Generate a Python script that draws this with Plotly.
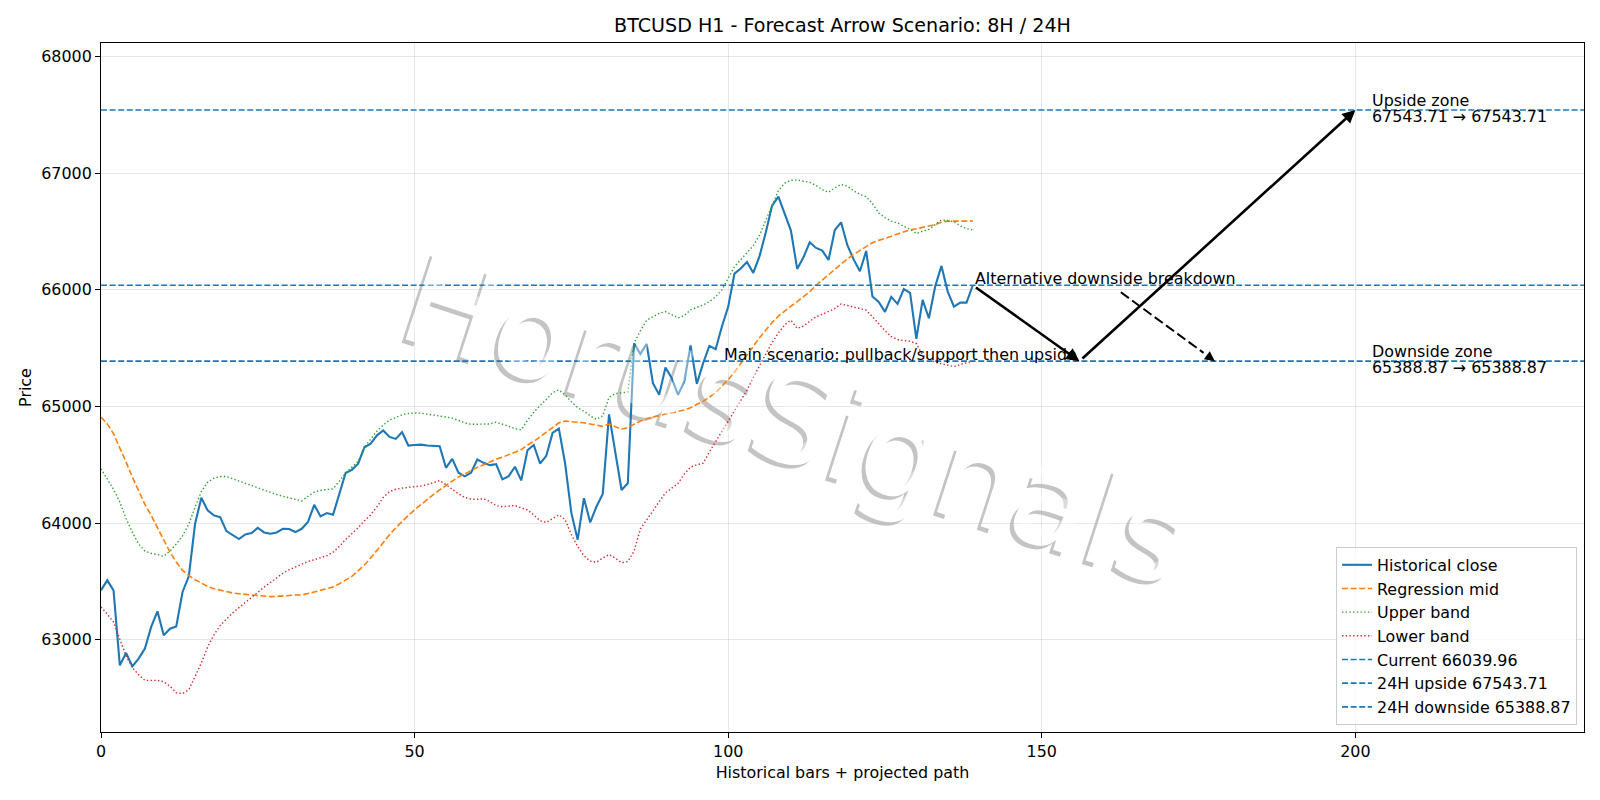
import plotly.graph_objects as go

# ---------------- data ----------------
bars = list(range(140))

close = [63423, 63509, 63423, 62780, 62886, 62771, 62837, 62923, 63109, 63243,
         63037, 63094, 63114, 63409, 63543, 63994, 64217, 64109, 64066, 64051,
         63931, 63894, 63863, 63903, 63914, 63960, 63920, 63909, 63920, 63951,
         63949, 63923, 63951, 64009, 64157, 64057, 64086, 64071, 64251, 64429,
         64457, 64510, 64650, 64682, 64753, 64795, 64739, 64722, 64781, 64665,
         64670, 64673, 64665, 64665, 64659, 64474, 64551, 64432, 64401, 64432,
         64545, 64517, 64497, 64506, 64375, 64403, 64483, 64366, 64625, 64670,
         64511, 64577, 64773, 64810, 64511, 64085, 63858, 64213, 64006, 64142,
         64250, 64932, 64625, 64284, 64341, 65543, 65451, 65537, 65200, 65100,
         65334, 65243, 65100, 65214, 65523, 65194, 65371, 65520, 65491, 65686,
         65855, 66140, 66183, 66240, 66146, 66290, 66494, 66723, 66800, 66651,
         66509, 66180, 66280, 66409, 66360, 66337, 66257, 66514, 66580, 66383,
         66262, 66160, 66334, 65943, 65897, 65812, 65940, 65880, 66008, 65974,
         65580, 65914, 65757, 66029, 66206, 65986, 65857, 65891, 65891, 66039.96]

reg_mid = [64909, 64851, 64766, 64651, 64523, 64394, 64280, 64160, 64066, 63960,
           63851, 63751, 63666, 63594, 63551, 63514, 63486, 63457, 63437, 63423,
           63409, 63400, 63394, 63389, 63380, 63374, 63371, 63369, 63371, 63377,
           63380, 63383, 63383, 63394, 63409, 63423, 63437, 63451, 63480, 63509,
           63543, 63590, 63640, 63700, 63770, 63840, 63900, 63960, 64015, 64065,
           64114, 64160, 64205, 64245, 64285, 64325, 64360, 64395, 64425, 64455,
           64478, 64500, 64525, 64548, 64565, 64585, 64605, 64630, 64670, 64700,
           64740, 64780, 64820, 64860, 64875, 64872, 64865, 64860, 64850, 64840,
           64830, 64850, 64830, 64805, 64820, 64850, 64875, 64895, 64910, 64925,
           64935, 64945, 64955, 64970, 64990, 65015, 65045, 65080, 65120, 65175,
           65230, 65295, 65365, 65440, 65515, 65590, 65660, 65720, 65775, 65820,
           65860, 65900, 65940, 65985, 66040, 66085, 66130, 66175, 66225, 66266,
           66305, 66340, 66375, 66405, 66425, 66440, 66460, 66480, 66500, 66515,
           66525, 66535, 66545, 66560, 66580, 66590, 66590, 66588, 66590, 66590]

upper_band = [64466, 64380, 64290, 64180, 64040, 63920, 63820, 63760, 63740, 63730,
              63715, 63760, 63820, 63890, 63990, 64137, 64270, 64350, 64385, 64400,
              64400, 64380, 64360, 64340, 64320, 64300, 64280, 64260, 64245, 64230,
              64215, 64200, 64190, 64230, 64266, 64280, 64288, 64294, 64360, 64430,
              64480, 64530, 64651, 64720, 64790, 64840, 64885, 64905, 64930, 64940,
              64945, 64943, 64935, 64928, 64923, 64910, 64900, 64880, 64860, 64847,
              64846, 64848, 64850, 64866, 64850, 64830, 64810, 64800, 64880, 64950,
              65009, 65060, 65120, 65142, 65100, 65040, 64990, 64960, 64920, 64890,
              64920, 65080, 65110, 65120, 65125, 65543, 65650, 65740, 65770, 65800,
              65814, 65790, 65760, 65780, 65830, 65850, 65870, 65900, 65940, 66000,
              66100, 66200, 66260, 66320, 66380, 66470, 66600, 66730, 66851, 66915,
              66940, 66943, 66935, 66923, 66895, 66860, 66837, 66875, 66905, 66890,
              66850, 66820, 66800, 66740, 66660, 66620, 66590, 66575, 66545, 66520,
              66485, 66500, 66520, 66560, 66600, 66595, 66585, 66550, 66525, 66514]

lower_band = [63280, 63220, 63150, 63000, 62860, 62760, 62700, 62651, 62650, 62651,
              62640, 62600, 62545, 62537, 62570, 62680, 62800, 62937, 63040, 63123,
              63180, 63230, 63275, 63320, 63360, 63405, 63450, 63490, 63530, 63570,
              63600, 63625, 63650, 63670, 63686, 63700, 63720, 63750, 63800, 63860,
              63910, 63960, 64020, 64071, 64140, 64220, 64270, 64290, 64300, 64305,
              64310, 64318, 64330, 64350, 64364, 64330, 64290, 64250, 64220, 64205,
              64205, 64208, 64185, 64150, 64140, 64145, 64151, 64130, 64114, 64070,
              64020, 64006, 64040, 64071, 64030, 63900, 63800, 63720, 63673, 63665,
              63700, 63730, 63700, 63660, 63670, 63760, 63950, 64029, 64100, 64180,
              64260, 64300, 64340, 64420, 64480, 64500, 64514, 64610, 64700, 64790,
              64870, 64960, 65050, 65140, 65250, 65350, 65450, 65550, 65630, 65700,
              65740, 65670, 65690, 65730, 65770, 65790, 65815, 65840, 65880, 65866,
              65855, 65840, 65826, 65770, 65710, 65650, 65600, 65575, 65565, 65560,
              65540, 65440, 65409, 65380, 65366, 65355, 65343, 65360, 65375, 65389]

current_price = 66039.96
upside_24h = 67543.71
downside_24h = 65388.87

# projected scenario paths (bar index, price)
main_path_x = [139, 156, 200]
main_path_y = [current_price, downside_24h, upside_24h]
alt_path_x = [162.6, 177.6]
alt_path_y = [65980, downside_24h]
zone_label_x = 202.3

x_range = [0, 236.45]
y_range = [62208, 68118]
x_ticks = [0, 50, 100, 150, 200]
y_ticks = [63000, 64000, 65000, 66000, 67000, 68000]

BLUE = "#1f77b4"
ORANGE = "#ff7f0e"
GREEN = "#2ca02c"
RED = "#d62728"
FONT = "DejaVu Sans"
FS = 15.9

fig = go.Figure()
fig.add_trace(go.Scatter(x=bars, y=close, mode="lines", name="Historical close",
                         line=dict(color=BLUE, width=2.1)))
fig.add_trace(go.Scatter(x=bars, y=reg_mid, mode="lines", name="Regression mid",
                         line=dict(color=ORANGE, width=1.6, dash="6px,2.6px")))
fig.add_trace(go.Scatter(x=bars, y=upper_band, mode="lines", name="Upper band",
                         line=dict(color=GREEN, width=1.4, dash="1.4px,2.3px")))
fig.add_trace(go.Scatter(x=bars, y=lower_band, mode="lines", name="Lower band",
                         line=dict(color=RED, width=1.4, dash="1.4px,2.3px")))
for lvl, nm in [(current_price, f"Current {current_price:.2f}"),
                (upside_24h, f"24H upside {upside_24h:.2f}"),
                (downside_24h, f"24H downside {downside_24h:.2f}")]:
    fig.add_trace(go.Scatter(x=x_range, y=[lvl, lvl], mode="lines", name=nm,
                             line=dict(color=BLUE, width=1.6, dash="6px,2.6px")))

# alternative dashed path (line body)
frac = 0.88
alt_body_end_x = alt_path_x[0] + frac * (alt_path_x[1] - alt_path_x[0])
alt_body_end_y = alt_path_y[0] + frac * (alt_path_y[1] - alt_path_y[0])
fig.add_trace(go.Scatter(x=[alt_path_x[0], alt_body_end_x], y=[alt_path_y[0], alt_body_end_y],
                         mode="lines", showlegend=False, hoverinfo="skip",
                         line=dict(color="black", width=2.0, dash="10px,4px")))

# ---------------- watermark ----------------
wm = "HorusSignals"
WM_X, WM_Y, WM_ANG, WM_SIZE = 0.470, 0.465, 18.0, 125
PLOT_W, PLOT_H = 1600 - 101 - 16, 800 - 43 - 68
shadow_dx, shadow_dy = -4.0 / PLOT_W, -3.5 / PLOT_H
shapes = []
for dx, dy, col in [(shadow_dx, shadow_dy, "rgb(196,196,196)"), (0, 0, "rgb(255,255,255)")]:
    shapes.append(dict(type="rect", xref="paper", yref="paper", layer="between",
                       x0=WM_X + dx - 0.001, x1=WM_X + dx + 0.001,
                       y0=WM_Y + dy - 0.001, y1=WM_Y + dy + 0.001,
                       line=dict(width=0), fillcolor="rgba(0,0,0,0)",
                       label=dict(text=wm, textposition="middle center",
                                  textangle=WM_ANG, padding=0,
                                  font=dict(family=FONT, size=WM_SIZE, color=col))))

annotations = []
# main scenario arrows
for k in range(len(main_path_x) - 1):
    annotations.append(dict(x=main_path_x[k + 1], y=main_path_y[k + 1],
                            ax=main_path_x[k], ay=main_path_y[k],
                            xref="x", yref="y", axref="x", ayref="y",
                            text="", showarrow=True, arrowhead=2, arrowsize=1.0,
                            arrowwidth=2.6, arrowcolor="black", standoff=0,
                            startstandoff=2))
# alternative arrow head
annotations.append(dict(x=alt_path_x[1], y=alt_path_y[1],
                        ax=alt_path_x[0] + 0.9 * (alt_path_x[1] - alt_path_x[0]),
                        ay=alt_path_y[0] + 0.9 * (alt_path_y[1] - alt_path_y[0]),
                        xref="x", yref="y", axref="x", ayref="y",
                        text="", showarrow=True, arrowhead=2, arrowsize=1.0,
                        arrowwidth=2.0, arrowcolor="black", standoff=0))

txt_font = dict(family=FONT, size=FS, color="black")
annotations.append(dict(x=main_path_x[1], y=downside_24h, xref="x", yref="y",
                        text="Main scenario: pullback/support then upside",
                        showarrow=False, xanchor="right", yanchor="bottom",
                        yshift=-5, font=txt_font))
annotations.append(dict(x=main_path_x[0], y=current_price, xref="x", yref="y",
                        text="Alternative downside breakdown",
                        showarrow=False, xanchor="left", yanchor="bottom",
                        yshift=-5, font=txt_font))
# zone labels: two lines each, first line just above the level, second just below
for title_txt, lvl in [("Upside zone", upside_24h), ("Downside zone", downside_24h)]:
    annotations.append(dict(x=zone_label_x, y=lvl, xref="x", yref="y",
                            text=title_txt, showarrow=False,
                            xanchor="left", yanchor="bottom", yshift=-1.8, font=txt_font))
    annotations.append(dict(x=zone_label_x, y=lvl, xref="x", yref="y",
                            text=f"{lvl:.2f} \u2192 {lvl:.2f}", showarrow=False,
                            xanchor="left", yanchor="bottom", yshift=-17.8, font=txt_font))
# translucent overlay of the watermark (fades marks underneath)
annotations.append(dict(x=WM_X, y=WM_Y, xref="paper", yref="paper", text=wm,
                        showarrow=False, textangle=WM_ANG,
                        font=dict(family=FONT, size=WM_SIZE, color="rgba(255,255,255,0.4)")))

axis_common = dict(showline=True, linecolor="black", linewidth=1.1, mirror=True,
                   ticks="outside", ticklen=5, tickwidth=1.1, tickcolor="black",
                   showgrid=True, gridcolor="rgba(176,176,176,0.3)", gridwidth=1,
                   zeroline=False, tickfont=dict(family=FONT, size=FS, color="black"))

fig.update_layout(
    width=1600, height=800,
    margin=dict(l=101, r=16, t=43, b=68),
    paper_bgcolor="white", plot_bgcolor="white",
    font=dict(family=FONT, size=FS, color="black"),
    title=dict(text="BTCUSD H1 - Forecast Arrow Scenario: 8H / 24H",
               x=0.5, xref="paper", y=1 - 25.5 / 800, yref="container",
               xanchor="center", yanchor="middle",
               font=dict(family=FONT, size=19.1, color="black")),
    xaxis=dict(range=x_range, tickvals=x_ticks,
               title=dict(text="Historical bars + projected path", standoff=6,
                          font=dict(family=FONT, size=FS, color="black")),
               **axis_common),
    yaxis=dict(range=y_range, tickvals=y_ticks, tickformat="d",
               title=dict(text="Price", standoff=5,
                          font=dict(family=FONT, size=FS, color="black")),
               **axis_common),
    legend=dict(x=0.9953, y=0.0102, xanchor="right", yanchor="bottom",
                bgcolor="rgba(255,255,255,0.8)", bordercolor="rgb(204,204,204)",
                borderwidth=1, font=dict(family=FONT, size=FS, color="black"),
                tracegroupgap=0),
    shapes=shapes,
    annotations=annotations,
    showlegend=True,
)

fig.write_html("out.html")
